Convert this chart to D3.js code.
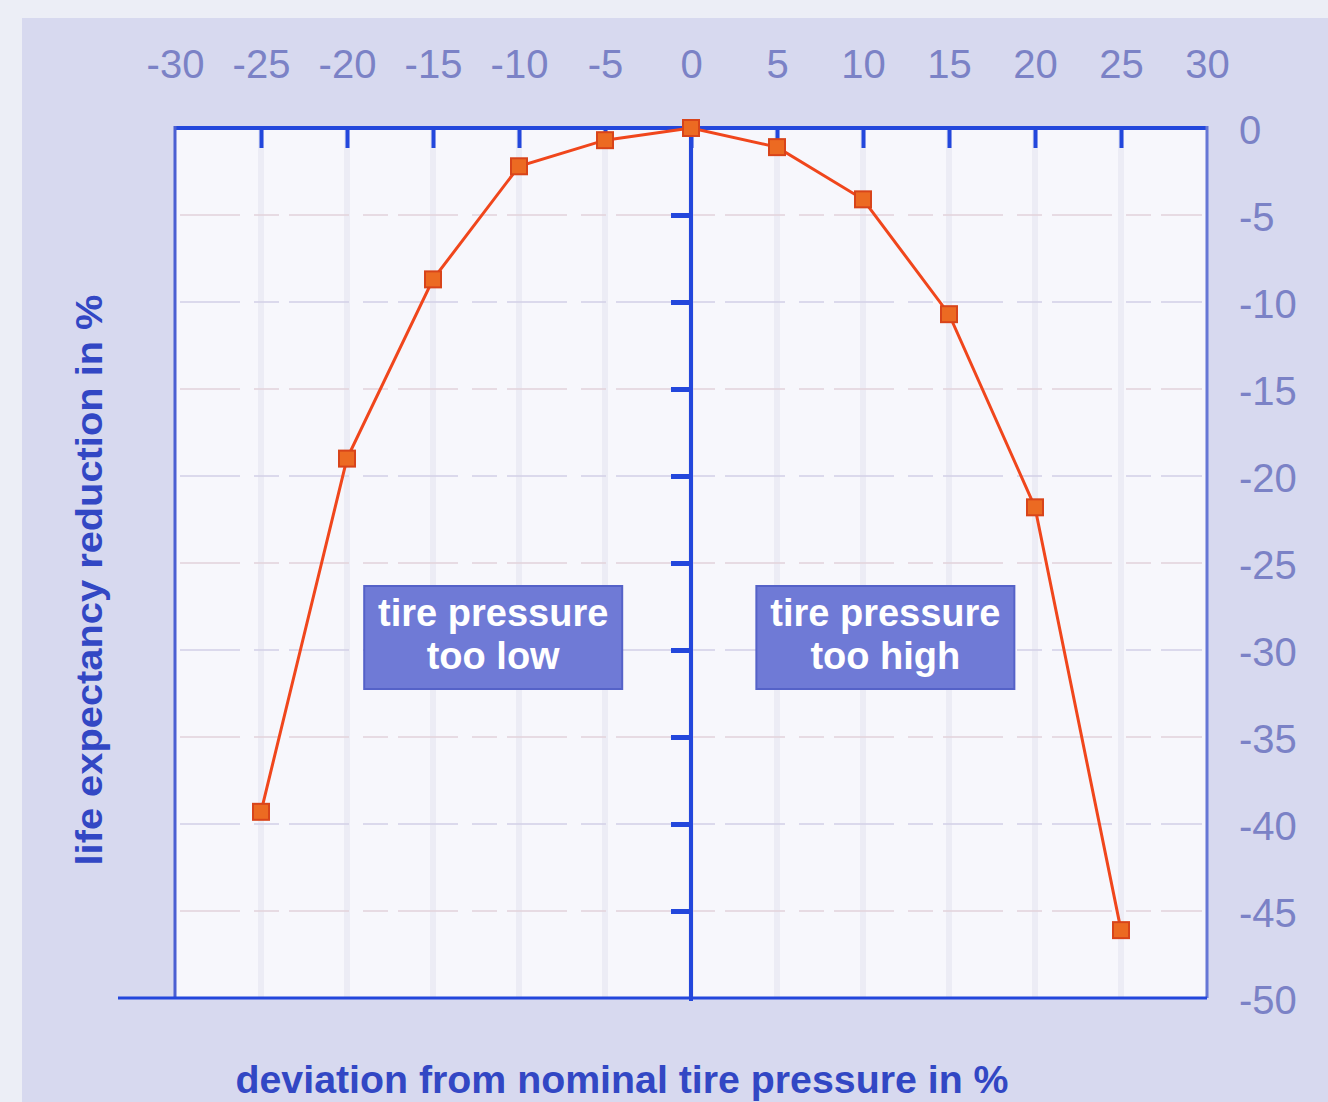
<!DOCTYPE html>
<html>
<head>
<meta charset="utf-8">
<script src="https://cdn.jsdelivr.net/npm/d3@7"></script>
<style>
  body { margin: 0; background: #eceef6; }
  svg { display: block; }
  .tick text { font-family: "Liberation Sans", Arial, sans-serif; }
</style>
</head>
<body>
<svg width="1328" height="1102"></svg>
<script>
const width = 1328;
const height = 1102;

// deviation from nominal pressure (%)
const deviation = [-25, -20, -15, -10, -5, 0, 5, 10, 15, 20, 25];
// life expectancy reduction (%)
const reduction = [-39.3, -19.0, -8.7, -2.2, -0.7, 0, -1.1, -4.1, -10.7, -21.8, -46.1];

const xTicks = [-30, -25, -20, -15, -10, -5, 0, 5, 10, 15, 20, 25, 30];
const yTicks = [0, -5, -10, -15, -20, -25, -30, -35, -40, -45, -50];

const svg = d3.select("svg");

const x = d3.scaleLinear().domain([-30, 30]).range([175, 1207]);
const y = d3.scaleLinear().domain([0, -50]).range([128, 998]);

const blue = "#2347dc";
const labelCol = "#7b82c6";
const plain = d => String(d);

// background panel
svg.append("rect")
    .attr("x", 22).attr("y", 18)
    .attr("width", width - 22).attr("height", height - 18)
    .attr("fill", "#d7d9ef");

// plot area
svg.append("rect")
    .attr("x", x(-30)).attr("y", y(0))
    .attr("width", x(30) - x(-30)).attr("height", y(-50) - y(0))
    .attr("fill", "#f7f7fc");

// faint grid
svg.append("g")
    .selectAll("line")
    .data(xTicks.slice(1, -1))
    .enter().append("line")
    .attr("x1", d => x(d)).attr("x2", d => x(d))
    .attr("y1", y(0)).attr("y2", y(-50))
    .attr("stroke", "#ececf5")
    .attr("stroke-width", 6);

svg.append("g")
    .selectAll("line")
    .data(yTicks.slice(1, -1))
    .enter().append("line")
    .attr("x1", x(-30) + 5).attr("x2", x(30) - 5)
    .attr("y1", d => y(d)).attr("y2", d => y(d))
    .attr("stroke", (d, i) => i % 2 ? "#d2d0e6" : "#e2d2da")
    .attr("stroke-width", 1.5)
    .attr("stroke-dasharray", "60 14 25 10");

// top labels
const topAxis = svg.append("g")
    .attr("transform", `translate(0,${y(0)})`)
    .call(d3.axisTop(x).tickValues(xTicks).tickSize(0).tickPadding(50).tickFormat(plain));
topAxis.select(".domain").remove();
topAxis.selectAll("text")
    .attr("fill", labelCol)
    .attr("font-size", 40);

// top ticks pointing down
const topTicks = svg.append("g")
    .attr("transform", `translate(0,${y(0)})`)
    .call(d3.axisBottom(x).tickValues(xTicks.slice(1, -1)).tickSize(20).tickFormat(""));
topTicks.select(".domain").remove();
topTicks.selectAll("line").attr("stroke", blue).attr("stroke-width", 4);

// right labels
const rightAxis = svg.append("g")
    .attr("transform", `translate(${x(30)},3)`)
    .call(d3.axisRight(y).tickValues(yTicks).tickSize(0).tickPadding(32).tickFormat(plain));
rightAxis.select(".domain").remove();
rightAxis.selectAll("text")
    .attr("fill", labelCol)
    .attr("font-size", 40);

// frame lines
svg.append("line")
    .attr("x1", x(-30)).attr("x2", x(30))
    .attr("y1", y(0)).attr("y2", y(0))
    .attr("stroke", blue).attr("stroke-width", 4);
svg.append("line")
    .attr("x1", x(-30)).attr("x2", x(-30))
    .attr("y1", y(0) - 2).attr("y2", y(-50))
    .attr("stroke", "#4b5fd2").attr("stroke-width", 3);
svg.append("line")
    .attr("x1", x(30)).attr("x2", x(30))
    .attr("y1", y(0) - 2).attr("y2", y(-50))
    .attr("stroke", "#6677d6").attr("stroke-width", 3);
svg.append("line")
    .attr("x1", 118).attr("x2", x(30))
    .attr("y1", y(-50)).attr("y2", y(-50))
    .attr("stroke", blue).attr("stroke-width", 3);

// centre axis at 0 with ticks to the left
const centreAxis = svg.append("g")
    .attr("transform", `translate(${x(0)},0)`)
    .call(d3.axisLeft(y).tickValues(yTicks.slice(1, -1)).tickSize(20).tickFormat(""));
centreAxis.select(".domain").remove();
centreAxis.selectAll("line").attr("stroke", blue).attr("stroke-width", 5);
svg.append("line")
    .attr("x1", x(0)).attr("x2", x(0))
    .attr("y1", y(0)).attr("y2", y(-50) + 3)
    .attr("stroke", blue).attr("stroke-width", 4);

// annotation boxes
const notes = [
    { cx: -11.5, lines: ["tire pressure", "too low"] },
    { cx: 11.3, lines: ["tire pressure", "too high"] }
];
const noteG = svg.append("g").selectAll("g")
    .data(notes)
    .enter().append("g");
noteG.append("rect")
    .attr("x", d => x(d.cx) - 129)
    .attr("y", 586)
    .attr("width", 258).attr("height", 103)
    .attr("fill", "#6f7ad6")
    .attr("stroke", "#5562c8").attr("stroke-width", 2);
noteG.append("text")
    .attr("x", d => x(d.cx))
    .attr("y", 626)
    .attr("text-anchor", "middle")
    .attr("font-family", "Liberation Sans, Arial, sans-serif")
    .attr("font-weight", "bold")
    .attr("font-size", 38)
    .attr("fill", "#ffffff")
    .selectAll("tspan")
    .data(d => d.lines)
    .enter().append("tspan")
    .attr("x", function() { return d3.select(this.parentNode).attr("x"); })
    .attr("dy", (d, i) => i ? 43 : 0)
    .text(d => d);

// data line
const pts = deviation.map((d, i) => [d, reduction[i]]);
const line = d3.line().x(d => x(d[0])).y(d => y(d[1]));
svg.append("path")
    .datum(pts)
    .attr("fill", "none")
    .attr("stroke", "#f0461c")
    .attr("stroke-width", 3)
    .attr("d", line);

svg.selectAll(".marker")
    .data(pts)
    .enter().append("rect")
    .attr("class", "marker")
    .attr("x", d => x(d[0]) - 8)
    .attr("y", d => y(d[1]) - 8)
    .attr("width", 16).attr("height", 16)
    .attr("fill", "#ec6a22")
    .attr("stroke", "#d8441a").attr("stroke-width", 2);

// axis titles
svg.append("text")
    .attr("x", 622).attr("y", 1093)
    .attr("text-anchor", "middle")
    .attr("font-family", "Liberation Sans, Arial, sans-serif")
    .attr("font-weight", "bold")
    .attr("font-size", 38)
    .attr("textLength", 773)
    .attr("lengthAdjust", "spacingAndGlyphs")
    .attr("fill", "#3247c4")
    .text("deviation from nominal tire pressure in %");

svg.append("text")
    .attr("transform", "translate(102,580) rotate(-90)")
    .attr("text-anchor", "middle")
    .attr("font-family", "Liberation Sans, Arial, sans-serif")
    .attr("font-weight", "bold")
    .attr("font-size", 37)
    .attr("textLength", 571)
    .attr("lengthAdjust", "spacingAndGlyphs")
    .attr("fill", "#3247c4")
    .text("life expectancy reduction in %");
</script>
</body>
</html>
